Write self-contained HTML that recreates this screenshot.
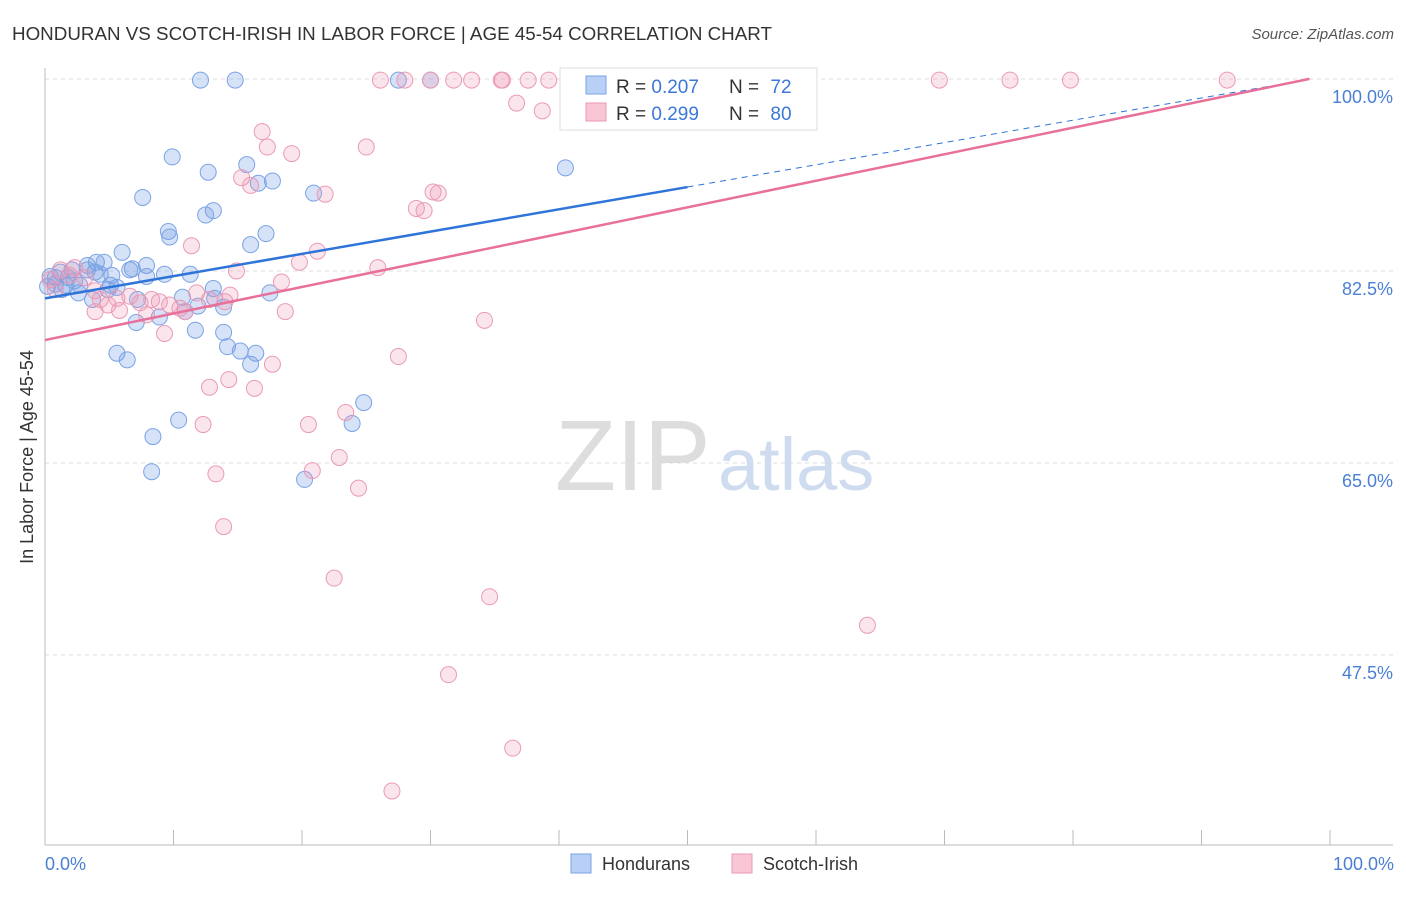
<!DOCTYPE html>
<html><head><meta charset="utf-8">
<style>
body{margin:0;background:#fff;font-family:"Liberation Sans",sans-serif;}
svg text{font-family:"Liberation Sans",sans-serif;}
</style></head>
<body>
<svg id="chart" width="1406" height="892" viewBox="0 0 1406 892">
<text x="12" y="40" font-size="18" fill="#333" textLength="760" lengthAdjust="spacingAndGlyphs">HONDURAN VS SCOTCH-IRISH IN LABOR FORCE | AGE 45-54 CORRELATION CHART</text>
<text x="1394" y="39" font-size="15" fill="#555" font-style="italic" text-anchor="end">Source: ZipAtlas.com</text>
<text x="33" y="457" font-size="18" fill="#333" text-anchor="middle" transform="rotate(-90 33 457)">In Labor Force | Age 45-54</text>
<g id="grid"></g>
<text x="555" y="490" font-size="100" fill="#ddd" font-family="Liberation Serif">ZIP</text>
<text x="718" y="490" font-size="74" fill="#cfdcf0">atlas</text>
<g id="marks"></g>
<g id="lines"></g>
<text x="45" y="870" font-size="18" fill="#4a7fd4">0.0%</text>
<text x="1394" y="870" font-size="18" fill="#4a7fd4" text-anchor="end">100.0%</text>
<g>
<rect x="560" y="68" width="257" height="62" fill="#fff" stroke="#ddd"/>
<rect x="586" y="76" width="20" height="18" fill="#b8d0f5" stroke="#7aa3e5"/>
<text x="616" y="93" font-size="19" fill="#333">R = <tspan fill="#3b78d8">0.207</tspan></text>
<text x="729" y="93" font-size="19" fill="#333">N = <tspan dx="6" fill="#3b78d8">72</tspan></text>
<rect x="586" y="103" width="20" height="18" fill="#f9c6d6" stroke="#eb9ab5"/>
<text x="616" y="120" font-size="19" fill="#333">R = <tspan fill="#3b78d8">0.299</tspan></text>
<text x="729" y="120" font-size="19" fill="#333">N = <tspan dx="6" fill="#3b78d8">80</tspan></text>
</g>
<g>
<rect x="571" y="854" width="20" height="19" fill="#b8d0f5" stroke="#7aa3e5"/>
<text x="602" y="870" font-size="18" fill="#333">Hondurans</text>
<rect x="732" y="854" width="20" height="19" fill="#f9c6d6" stroke="#eb9ab5"/>
<text x="763" y="870" font-size="18" fill="#333">Scotch-Irish</text>
</g>
</svg>
<script>
const yTicks=[100,82.5,65,47.5];
const yTickLabels=["100.0%","82.5%","65.0%","47.5%"];
const xTicks=[0,10,20,30,40,50,60,70,80,90,100];
const blueX=[12.1,14.8,27.5,30.0,40.5,9.9,12.7,7.6,15.7,17.7,16.6,20.9,13.1,12.5,9.6,9.7,17.2,16.0,6.0,4.6,4.0,3.3,2.1,1.2,0.4,0.8,1.6,2.7,3.9,5.2,6.6,7.9,7.9,9.3,11.3,5.6,5.1,4.9,2.6,3.7,7.2,10.7,13.1,13.2,13.9,11.9,10.9,8.9,7.1,17.5,11.7,13.9,14.2,15.2,16.4,16.0,5.6,6.4,10.4,8.4,8.3,24.8,23.9,20.2,0.2,0.8,2.3,1.3,3.3,6.8,1.8,4.3];
const blueY=[99.9,99.9,99.9,99.9,91.9,92.9,91.5,89.2,92.2,90.7,90.5,89.6,88.0,87.6,86.1,85.6,85.9,84.9,84.2,83.3,83.3,82.6,82.6,82.4,82.0,81.3,81.2,81.2,82.4,82.1,82.6,83.0,82.0,82.2,82.2,81.0,81.2,80.8,80.5,79.9,79.9,80.1,80.9,80.0,79.2,79.3,78.8,78.3,77.8,80.5,77.1,76.9,75.6,75.2,75.0,74.0,75.0,74.4,68.9,67.4,64.2,70.5,68.6,63.5,81.1,81.9,81.6,80.8,83.0,82.7,81.9,82.2];
const pinkX=[26.1,28.0,30.0,31.8,33.2,35.5,35.6,37.6,39.2,46.3,51.4,69.6,75.1,79.8,92.0,36.7,38.7,16.9,17.3,25.0,19.2,15.3,16.0,21.8,30.2,30.6,28.9,29.5,11.4,21.2,19.8,14.9,25.9,18.4,1.2,1.9,3.1,3.9,5.6,6.6,7.4,8.3,9.7,10.5,11.8,14.0,18.7,3.9,4.9,5.8,9.3,7.9,34.2,27.5,17.7,14.3,16.3,12.8,12.3,23.4,20.5,22.9,20.8,24.4,13.3,13.9,22.5,34.6,64.0,31.4,36.4,27.0,0.4,2.3,0.8,10.9,8.9,4.3,12.8,14.4];
const pinkY=[99.9,99.9,99.9,99.9,99.9,99.9,99.9,99.9,99.9,99.9,99.9,99.9,99.9,99.9,99.9,97.8,97.1,95.2,93.8,93.8,93.2,91.0,90.3,89.5,89.7,89.6,88.2,88.0,84.8,84.3,83.3,82.5,82.8,81.5,82.6,82.1,81.9,80.7,80.0,80.2,79.6,79.9,79.4,79.1,80.5,79.7,78.8,78.8,79.4,78.9,76.8,78.5,78.0,74.7,74.0,72.6,71.8,71.9,68.5,69.6,68.5,65.5,64.3,62.7,64.0,59.2,54.5,52.8,50.2,45.7,39.0,35.1,81.7,82.8,80.8,78.8,79.7,79.9,79.9,80.3];
const blueTrend=[80.0,0.203];
const pinkTrend=[76.2,0.242];
const NS="http://www.w3.org/2000/svg";
const xs=v=>45+v*12.85;
const ys=v=>79+(100-v)*10.97;
function mk(t,a,p){const e=document.createElementNS(NS,t);for(const k in a)e.setAttribute(k,a[k]);p.appendChild(e);return e;}
const grid=document.getElementById('grid');
yTicks.forEach((t,i)=>{
 const l=mk('line',{x1:45,x2:1393,y1:ys(t),y2:ys(t),stroke:'#ddd','stroke-dasharray':'4,4'},grid);
 
 
 const tx=mk('text',{x:1393,y:ys(t)+24,'font-size':18,fill:'#4a7fd4','text-anchor':'end'},grid);
 tx.textContent=yTickLabels[i];
 
 
});
const ax=mk('line',{x1:45,x2:45,y1:68,y2:845,stroke:'#bbb'},grid);


const bx=mk('line',{x1:45,x2:1393,y1:845,y2:845,stroke:'#bbb'},grid);


xTicks.forEach(t=>{
 const l=mk('line',{x1:xs(t),x2:xs(t),y1:830,y2:845,stroke:'#bbb'},grid);
 
 
});
const marks=document.getElementById('marks');
blueX.forEach((x,i)=>{
 const c=mk('circle',{cx:xs(x),cy:ys(blueY[i]),r:8,fill:'rgba(120,160,230,0.3)',stroke:'#7aa3e5','stroke-width':1},marks);
 
 
});
pinkX.forEach((x,i)=>{
 const c=mk('circle',{cx:xs(x),cy:ys(pinkY[i]),r:8,fill:'rgba(240,150,180,0.25)',stroke:'#eb9ab5','stroke-width':1},marks);
 
 
});
const lines=document.getElementById('lines');
const xEnd=98.4;
const b1=mk('line',{x1:xs(0),y1:ys(blueTrend[0]),x2:xs(50),y2:ys(blueTrend[0]+blueTrend[1]*50),stroke:'#2f74d8','stroke-width':2.5},lines);


const b2=mk('line',{x1:xs(50),y1:ys(blueTrend[0]+blueTrend[1]*50),x2:xs(xEnd),y2:ys(blueTrend[0]+blueTrend[1]*xEnd),stroke:'#2f74d8','stroke-width':1,'stroke-dasharray':'6,5'},lines);


const p1=mk('line',{x1:xs(0),y1:ys(pinkTrend[0]),x2:xs(xEnd),y2:ys(pinkTrend[0]+pinkTrend[1]*xEnd),stroke:'#e8709a','stroke-width':2.5},lines);


</script>
</body></html>
